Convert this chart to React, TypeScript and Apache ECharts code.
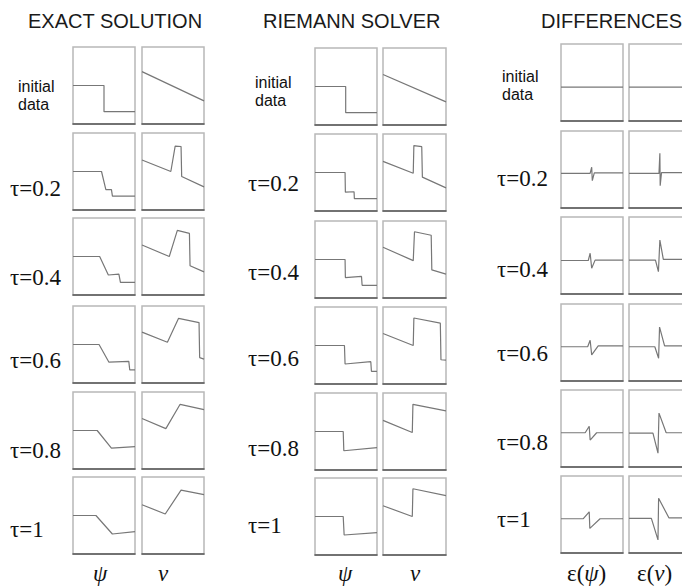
import React, { useEffect, useRef } from "react";
import * as echarts from "echarts";

type Pt = [number, number];

// Row labels (one per row of panels)
const rowLabels: string[] = ["initial\ndata", "τ=0.2", "τ=0.4", "τ=0.6", "τ=0.8", "τ=1"];
const groupTitles: string[] = ["EXACT SOLUTION", "RIEMANN SOLVER", "DIFFERENCES"];

// Each panel: x in [0,1] (left→right), y in [0,1] (bottom→top)
const exactPsi: Pt[][] = [
  [[0, 0.5], [0.5, 0.5], [0.5, 0.16], [1, 0.16]],
  [[0, 0.5], [0.46, 0.5], [0.53, 0.265], [0.62, 0.265], [0.636, 0.18], [1, 0.18]],
  [[0, 0.5], [0.43, 0.5], [0.57, 0.26], [0.74, 0.27], [0.765, 0.165], [1, 0.165]],
  [[0, 0.5], [0.42, 0.5], [0.58, 0.27], [0.9, 0.28], [0.915, 0.17], [1, 0.17]],
  [[0, 0.5], [0.39, 0.5], [0.62, 0.27], [1, 0.29]],
  [[0, 0.5], [0.37, 0.5], [0.635, 0.26], [1, 0.29]],
];
const exactNu: Pt[][] = [
  [[0, 0.68], [1, 0.3]],
  [[0, 0.65], [0.465, 0.5], [0.535, 0.83], [0.63, 0.825], [0.64, 0.436], [1, 0.3]],
  [[0, 0.65], [0.44, 0.5], [0.57, 0.84], [0.765, 0.8], [0.775, 0.38], [1, 0.3]],
  [[0, 0.66], [0.41, 0.53], [0.59, 0.84], [0.92, 0.785], [0.93, 0.33], [1, 0.31]],
  [[0, 0.655], [0.385, 0.525], [0.615, 0.84], [1, 0.77]],
  [[0, 0.64], [0.375, 0.52], [0.63, 0.83], [1, 0.77]],
];
const riemannPsi: Pt[][] = [
  [[0, 0.5], [0.495, 0.5], [0.495, 0.16], [1, 0.16]],
  [[0, 0.5], [0.485, 0.5], [0.49, 0.245], [0.63, 0.25], [0.635, 0.16], [1, 0.16]],
  [[0, 0.5], [0.485, 0.5], [0.49, 0.265], [0.75, 0.28], [0.76, 0.165], [1, 0.165]],
  [[0, 0.5], [0.475, 0.5], [0.485, 0.26], [0.9, 0.29], [0.91, 0.165], [1, 0.165]],
  [[0, 0.5], [0.455, 0.5], [0.465, 0.25], [1, 0.29]],
  [[0, 0.5], [0.455, 0.5], [0.47, 0.26], [1, 0.29]],
];
const riemannNu: Pt[][] = [
  [[0, 0.655], [1, 0.3]],
  [[0, 0.645], [0.48, 0.49], [0.49, 0.85], [0.615, 0.835], [0.625, 0.44], [1, 0.3]],
  [[0, 0.66], [0.48, 0.485], [0.5, 0.86], [0.765, 0.815], [0.775, 0.365], [1, 0.31]],
  [[0, 0.655], [0.48, 0.5], [0.49, 0.857], [0.91, 0.79], [0.92, 0.315], [1, 0.31]],
  [[0, 0.645], [0.465, 0.487], [0.475, 0.853], [1, 0.767]],
  [[0, 0.64], [0.465, 0.5], [0.475, 0.86], [1, 0.77]],
];
const diffPsi: Pt[][] = [
  [[0, 0.44], [1, 0.44]],
  [[0, 0.45], [0.47, 0.45], [0.495, 0.53], [0.505, 0.355], [0.537, 0.455], [1, 0.455]],
  [[0, 0.435], [0.44, 0.435], [0.47, 0.53], [0.495, 0.335], [0.55, 0.44], [1, 0.44]],
  [[0, 0.445], [0.43, 0.445], [0.47, 0.53], [0.495, 0.34], [0.6, 0.455], [1, 0.455]],
  [[0, 0.445], [0.39, 0.445], [0.455, 0.53], [0.47, 0.35], [0.575, 0.445], [1, 0.445]],
  [[0, 0.445], [0.36, 0.445], [0.455, 0.535], [0.465, 0.32], [0.63, 0.445], [1, 0.445]],
];
const diffNu: Pt[][] = [
  [[0, 0.44], [1, 0.44]],
  [[0, 0.45], [0.476, 0.45], [0.49, 0.71], [0.495, 0.29], [0.516, 0.46], [1, 0.46]],
  [[0, 0.44], [0.42, 0.44], [0.467, 0.29], [0.49, 0.7], [0.545, 0.45], [1, 0.45]],
  [[0, 0.445], [0.41, 0.445], [0.47, 0.295], [0.485, 0.7], [0.565, 0.455], [1, 0.455]],
  [[0, 0.44], [0.38, 0.44], [0.46, 0.18], [0.476, 0.7], [0.59, 0.445], [1, 0.445]],
  [[0, 0.45], [0.355, 0.45], [0.46, 0.17], [0.47, 0.71], [0.635, 0.455], [1, 0.455]],
];

// Layout (pixels); right panel of DIFFERENCES runs past the page edge
const groups = [
  {
    data: [exactPsi, exactNu],
    panelLeft: [73, 142], panelWidth: [62, 62],
    rowTops: [47, 133, 218, 306, 392, 477],
    titleX: 28, initX: 18, initY: 95, tauX: 10, tauY: [188, 277, 360, 450, 529],
    bottom: [{ x: 93, t: "ψ", eps: false }, { x: 158, t: "ν", eps: false }],
  },
  {
    data: [riemannPsi, riemannNu],
    panelLeft: [315, 383], panelWidth: [62, 63],
    rowTops: [48, 134, 221, 307, 393, 478],
    titleX: 263, initX: 255, initY: 91, tauX: 248, tauY: [183, 272, 358, 448, 525],
    bottom: [{ x: 338, t: "ψ", eps: false }, { x: 410, t: "ν", eps: false }],
  },
  {
    data: [diffPsi, diffNu],
    panelLeft: [561, 629], panelWidth: [62, 63],
    rowTops: [44, 131, 217, 304, 390, 476],
    titleX: 541, initX: 502, initY: 85, tauX: 497, tauY: [178, 269, 353, 442, 519],
    bottom: [{ x: 567, t: "ψ", eps: true }, { x: 637, t: "ν", eps: true }],
  },
];
const PANEL_H = 77;
const SANS = "'Liberation Sans'";
const SERIF = "'Liberation Serif'";

export default function App() {
  const ref = useRef<HTMLDivElement>(null);
  useEffect(() => {
    if (!ref.current) return;
    const chart = echarts.init(ref.current, undefined, { renderer: "svg" });
    const grid: any[] = [];
    const xAxis: any[] = [];
    const yAxis: any[] = [];
    const series: any[] = [];
    const graphic: any[] = [];
    const rich = {
      n: { fontFamily: SERIF, fontSize: 23, fill: "#111" },
      i: { fontFamily: SERIF, fontStyle: "italic", fontSize: 23, fill: "#111" },
    };

    groups.forEach((g, gi) => {
      graphic.push({
        type: "text", x: g.titleX, y: 21,
        style: { text: groupTitles[gi], fontFamily: SANS, fontSize: 20, fill: "#1a1a1a", verticalAlign: "middle" },
      });
      graphic.push({
        type: "text", x: g.initX, y: g.initY,
        style: { text: rowLabels[0], fontFamily: SANS, fontSize: 16, lineHeight: 18, fill: "#111", verticalAlign: "middle" },
      });
      g.tauY.forEach((ty, i) => {
        graphic.push({
          type: "text", x: g.tauX, y: ty,
          style: { text: rowLabels[i + 1], fontFamily: SERIF, fontSize: 23, fill: "#111", verticalAlign: "middle" },
        });
      });
      g.bottom.forEach((b) => {
        graphic.push({
          type: "text", x: b.x, y: 573,
          style: {
            text: b.eps ? `{n|ε(}{i|${b.t}}{n|)}` : `{i|${b.t}}`,
            verticalAlign: "middle",
            rich,
          },
        });
      });
      for (let c = 0; c < 2; c++) {
        for (let r = 0; r < 6; r++) {
          const idx = grid.length;
          grid.push({
            left: g.panelLeft[c], top: g.rowTops[r], width: g.panelWidth[c], height: PANEL_H,
            outerBoundsMode: "none", containLabel: false,
            show: true, borderColor: "#b8b8b8", borderWidth: 1.5, backgroundColor: "transparent",
          });
          xAxis.push({
            type: "value", gridIndex: idx, min: 0, max: 1,
            axisLine: { show: true, onZero: false, lineStyle: { color: "#555", width: 1.5 } },
            axisTick: { show: false }, axisLabel: { show: false }, splitLine: { show: false },
          });
          yAxis.push({
            type: "value", gridIndex: idx, min: 0, max: 1, show: false,
            splitLine: { show: false },
          });
          series.push({
            type: "line", xAxisIndex: idx, yAxisIndex: idx, data: g.data[c][r],
            showSymbol: false, symbol: "none", silent: true,
            lineStyle: { color: "#777", width: 1.2 },
          });
        }
      }
    });

    chart.setOption({
      animation: false,
      backgroundColor: "#fff",
      grid, xAxis, yAxis, series, graphic,
    });
    return () => chart.dispose();
  }, []);
  return (
    <div
      ref={ref}
      style={{ position: "absolute", left: 0, top: 0, width: 682, height: 588 }}
    />
  );
}
